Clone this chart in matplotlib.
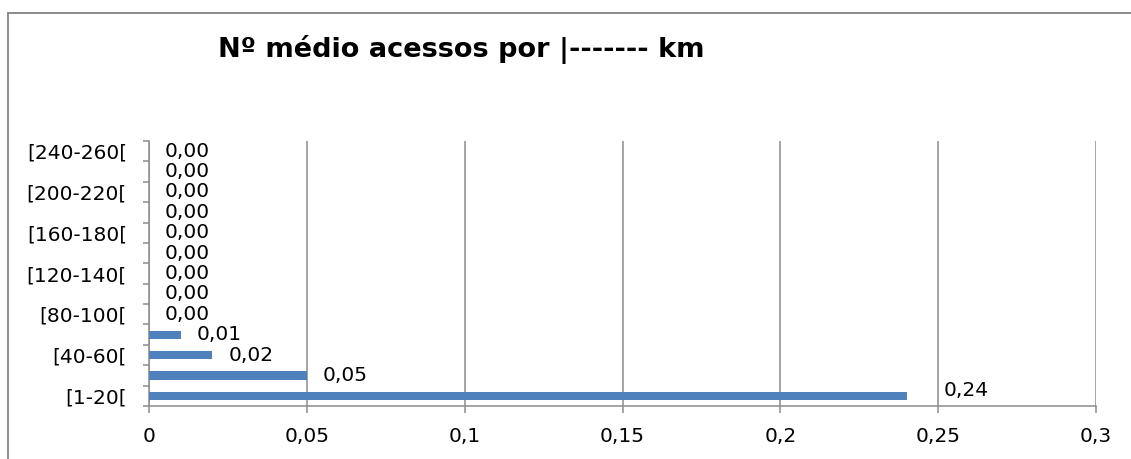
import matplotlib
matplotlib.use("Agg")
import matplotlib.pyplot as plt
from matplotlib.lines import Line2D
from matplotlib.ticker import FuncFormatter, FixedLocator

categories = ["[1-20[", "[20-40[", "[40-60[", "[60-80[", "[80-100[", "[100-120[",
              "[120-140[", "[140-160[", "[160-180[", "[180-200[", "[200-220[",
              "[220-240[", "[240-260["]
values = [0.24, 0.05, 0.02, 0.01, 0.00, 0.00, 0.00, 0.00, 0.00, 0.00, 0.00, 0.00, 0.00]
title = "Nº médio acessos por |------- km"
x_ticks = [0, 0.05, 0.1, 0.15, 0.2, 0.25, 0.3]

BAR_COLOR = "#4F81BD"
GRID_COLOR = "#8C8C8C"
FONT = "DejaVu Sans"
DPI = 100
W, H = 1131, 459
PT = 72 / DPI  # points per pixel

plt.rcParams["font.family"] = [FONT]

fig = plt.figure(figsize=(W / DPI, H / DPI), dpi=DPI)
fig.patch.set_facecolor("white")

# chart-area frame: only the top and left edges fall inside the image
fx, fy = 7.5 / W, (H - 12.5) / H
fig.add_artist(Line2D([fx, 1.0], [fy, fy], transform=fig.transFigure,
                      color=GRID_COLOR, linewidth=1.4))
fig.add_artist(Line2D([fx, fx], [0.0, fy], transform=fig.transFigure,
                      color=GRID_COLOR, linewidth=1.4))

left, right, top, bottom = 149, 1096, 141, 406
ax = fig.add_axes([left / W, (H - bottom) / H, (right - left) / W, (bottom - top) / H])

pos = list(range(len(categories)))
ax.barh(pos, values, height=0.4, color=BAR_COLOR, zorder=3)

ax.set_xlim(0, 0.3)
ax.set_ylim(-0.5, len(categories) - 0.5)

def comma(v, _):
    return ("%g" % round(v, 4)).replace(".", ",")

ax.xaxis.set_major_locator(FixedLocator(x_ticks))
ax.xaxis.set_major_formatter(FuncFormatter(comma))
ax.grid(axis="x", color=GRID_COLOR, linewidth=1.1, zorder=0)
ax.grid(axis="y", visible=False)

# category labels on every other row, tick marks at row boundaries
ax.set_yticks(pos[::2])
ax.set_yticklabels(categories[::2])
ax.set_yticks([p - 0.5 for p in pos] + [len(pos) - 0.5], minor=True)
ax.tick_params(axis="y", which="major", length=0, pad=22 * PT, labelsize=14.5)
ax.tick_params(axis="y", which="minor", length=6 * PT, width=1.1, color=GRID_COLOR,
               direction="out")
ax.tick_params(axis="x", which="major", length=7 * PT, width=1.1, color=GRID_COLOR,
               direction="out", pad=14 * PT, labelsize=14.5)

for side in ("top", "right"):
    ax.spines[side].set_visible(False)
for side in ("left", "bottom"):
    ax.spines[side].set_color(GRID_COLOR)
    ax.spines[side].set_linewidth(1.1)

# value labels (pixel offsets from the bar end)
label_offsets = [(37, 5)] + [(16, 0)] * (len(values) - 1)
for p, v, (dx, dy) in zip(pos, values, label_offsets):
    ax.annotate(f"{v:.2f}".replace(".", ","), xy=(v, p), xytext=(dx * PT, dy * PT),
                textcoords="offset points", va="center", ha="left", fontsize=14.5,
                zorder=4)

fig.text(461 / W, (H - 49) / H, title, ha="center", va="center",
         fontsize=19.5, fontweight="bold")

fig.savefig("out.png", dpi=DPI)
